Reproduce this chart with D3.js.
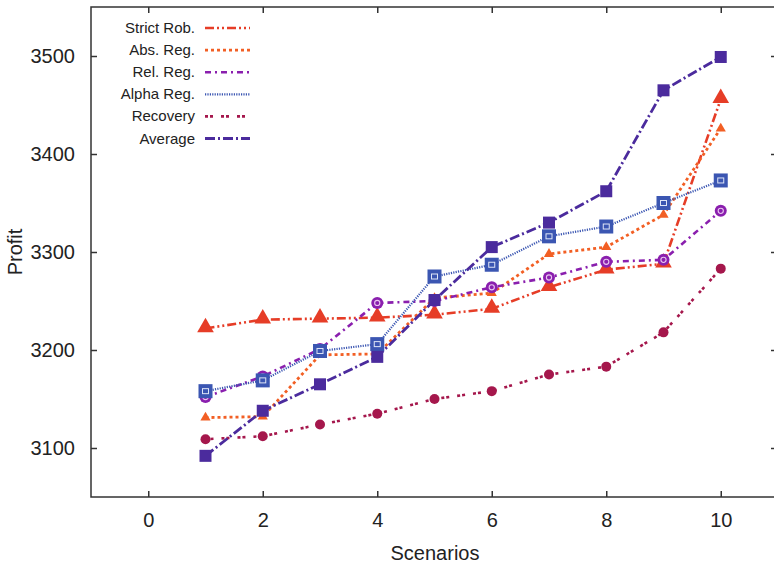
<!DOCTYPE html>
<html>
<head>
<meta charset="utf-8">
<script src="https://cdn.jsdelivr.net/npm/d3@7"></script>
<style>
  body { margin: 0; background: #fff; }
  svg text { font-family: "Liberation Sans", Arial, sans-serif; fill: #222; }
</style>
</head>
<body>
<svg id="chart" width="774" height="566"></svg>
<script>
// scenario numbers
var scenarios = [1, 2, 3, 4, 5, 6, 7, 8, 9, 10];

// profit per method
var strictRob = [3222, 3231, 3232, 3233, 3236, 3242, 3264, 3282, 3288, 3456];
var absReg    = [3131, 3132, 3195, 3196, 3253, 3258, 3298, 3305, 3338, 3426];
var relReg    = [3152, 3173, 3201, 3248, 3250, 3264, 3274, 3290, 3292, 3342];
var alphaReg  = [3158, 3169, 3199, 3206, 3275, 3287, 3316, 3326, 3350, 3373];
var recovery  = [3109, 3112, 3124, 3135, 3150, 3158, 3175, 3183, 3218, 3283];
var average   = [3092, 3138, 3165, 3193, 3251, 3305, 3330, 3362, 3465, 3499];

var xTicks = [0, 2, 4, 6, 8, 10];
var yTicks = [3100, 3200, 3300, 3400, 3500];

var series = [
  {name: "Strict Rob.", values: strictRob, color: "#e63d27", dash: "9,3,2,3,2,3", width: 2.6, marker: "bigTri"},
  {name: "Abs. Reg.",   values: absReg,    color: "#f25f24", dash: "3,3",          width: 2.8, marker: "smallTri"},
  {name: "Rel. Reg.",   values: relReg,    color: "#8a1fae", dash: "6,4,2,4",      width: 2.6, marker: "ring"},
  {name: "Alpha Reg.",  values: alphaReg,  color: "#3b56b2", dash: "1.2,1.2",      width: 2.2, marker: "box"},
  {name: "Recovery",    values: recovery,  color: "#a5174c", dash: "3,2,3,8",      width: 2.6, marker: "dot"},
  {name: "Average",     values: average,   color: "#4b2b9d", dash: "10,3,2,3",     width: 2.8, marker: "square"}
];

var svg = d3.select("#chart");
var plotL = 91, plotT = 7, plotR = 778, plotB = 497;

var x = d3.scaleLinear().domain([-1, 11]).range([plotL, plotR]);
var y = d3.scaleLinear().domain([3050, 3550]).range([plotB, plotT]);

// frame
svg.append("rect")
  .attr("x", plotL).attr("y", plotT)
  .attr("width", plotR - plotL).attr("height", plotB - plotT)
  .attr("fill", "none").attr("stroke", "#333").attr("stroke-width", 1.5);

// axes with inward ticks
var gx = svg.append("g").attr("transform", "translate(0," + plotB + ")")
  .call(d3.axisBottom(x).tickValues(xTicks).tickSize(-6).tickPadding(16));
var gxTop = svg.append("g").attr("transform", "translate(0," + plotT + ")")
  .call(d3.axisTop(x).tickValues(xTicks).tickSize(-6).tickFormat(""));
var gy = svg.append("g").attr("transform", "translate(" + plotL + ",0)")
  .call(d3.axisLeft(y).tickValues(yTicks).tickSize(-6).tickPadding(16).tickFormat(d3.format("d")));
var gyR = svg.append("g").attr("transform", "translate(" + 774 + ",0)")
  .call(d3.axisRight(y).tickValues(yTicks).tickSize(-3).tickFormat(""));

[gx, gxTop, gy, gyR].forEach(function(g) {
  g.select(".domain").remove();
  g.selectAll(".tick line").attr("stroke", "#333").attr("stroke-width", 1.5);
  g.selectAll(".tick text").attr("font-size", 20).attr("fill", "#222");
});

// axis titles
svg.append("text")
  .attr("x", 435).attr("y", 560)
  .attr("text-anchor", "middle").attr("font-size", 20)
  .text("Scenarios");
svg.append("text")
  .attr("transform", "translate(22,252) rotate(-90)")
  .attr("text-anchor", "middle").attr("font-size", 20)
  .text("Profit");

var line = d3.line()
  .x(function(d, i) { return x(scenarios[i]); })
  .y(function(d) { return y(d); });

function drawMarker(g, kind, color, cx, cy) {
  if (kind === "bigTri") {
    g.append("path").attr("d", d3.symbol().type(d3.symbolTriangle).size(120)())
      .attr("transform", "translate(" + cx + "," + (cy - 1) + ")").attr("fill", color);
  } else if (kind === "smallTri") {
    g.append("path").attr("d", d3.symbol().type(d3.symbolTriangle).size(45)())
      .attr("transform", "translate(" + cx + "," + cy + ")").attr("fill", color);
  } else if (kind === "ring") {
    g.append("circle").attr("cx", cx).attr("cy", cy).attr("r", 6).attr("fill", color);
    g.append("circle").attr("cx", cx).attr("cy", cy).attr("r", 2.6)
      .attr("fill", "none").attr("stroke", "#e9c6f0").attr("stroke-width", 1.1);
  } else if (kind === "box") {
    g.append("rect").attr("x", cx - 7).attr("y", cy - 7).attr("width", 14).attr("height", 14)
      .attr("fill", color);
    g.append("rect").attr("x", cx - 3).attr("y", cy - 2.5).attr("width", 6).attr("height", 5)
      .attr("fill", "none").attr("stroke", "#dfe6f7").attr("stroke-width", 1);
  } else if (kind === "dot") {
    g.append("circle").attr("cx", cx).attr("cy", cy).attr("r", 5).attr("fill", color);
  } else if (kind === "square") {
    g.append("rect").attr("x", cx - 6).attr("y", cy - 6).attr("width", 12).attr("height", 12)
      .attr("fill", color);
  }
}

// lines first, then markers
series.forEach(function(s) {
  svg.append("path")
    .datum(s.values)
    .attr("d", line)
    .attr("fill", "none")
    .attr("stroke", s.color)
    .attr("stroke-width", s.width)
    .attr("stroke-dasharray", s.dash);
});
series.forEach(function(s) {
  var g = svg.append("g");
  s.values.forEach(function(v, i) {
    drawMarker(g, s.marker, s.color, x(scenarios[i]), y(v));
  });
});

// legend
var legend = svg.append("g");
series.forEach(function(s, i) {
  var ly = 28 + i * 22.1;
  legend.append("text")
    .attr("x", 195).attr("y", ly + 5)
    .attr("text-anchor", "end").attr("font-size", 15)
    .text(s.name);
  legend.append("line")
    .attr("x1", 205).attr("x2", 250).attr("y1", ly).attr("y2", ly)
    .attr("stroke", s.color).attr("stroke-width", s.width)
    .attr("stroke-dasharray", s.dash);
});
</script>
</body>
</html>
